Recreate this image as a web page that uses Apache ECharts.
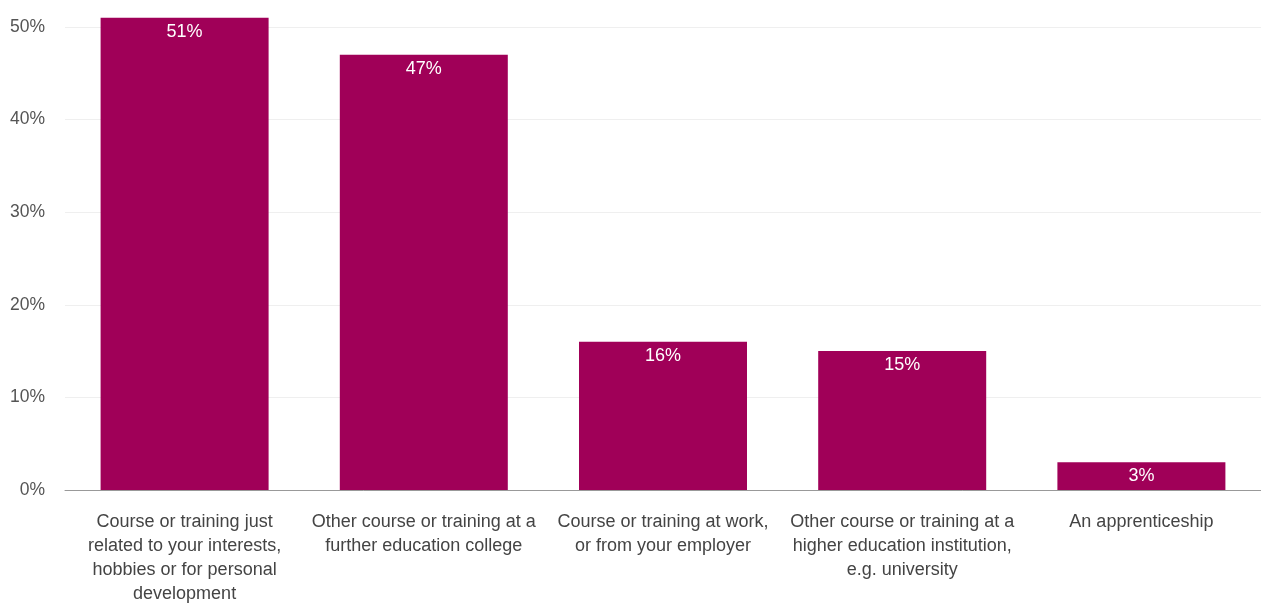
<!DOCTYPE html>
<html>
<head>
<meta charset="utf-8">
<script src="https://cdn.jsdelivr.net/npm/echarts@6/dist/echarts.min.js"></script>
<style>
  html, body { margin: 0; padding: 0; background: #fff; }
  #chart { width: 1261px; height: 606px; }
</style>
</head>
<body>
<div id="chart"></div>
<script>
// Type of learning taken up, share of respondents (%)
const categories = [
  'Course or training just\nrelated to your interests,\nhobbies or for personal\ndevelopment',
  'Other course or training at a\nfurther education college',
  'Course or training at work,\nor from your employer',
  'Other course or training at a\nhigher education institution,\ne.g. university',
  'An apprenticeship'
];
const shares = [51, 47, 16, 15, 3];
const yTicks = { min: 0, max: 50, step: 10 };

const chart = echarts.init(document.getElementById('chart'));
chart.setOption({
  animation: false,
  textStyle: { fontFamily: 'Liberation Sans, Arial, sans-serif' },
  // plot area runs past the right edge, so the last gridlines are cut off
  grid: { left: 65, top: 27, width: 1207, bottom: 111, containLabel: false },
  xAxis: {
    type: 'category',
    data: categories,
    axisTick: { show: false },
    axisLine: { lineStyle: { color: '#999', width: 1 } },
    axisLabel: {
      interval: 0,
      margin: 20,
      color: '#444',
      fontSize: 18,
      lineHeight: 24,
      align: 'center'
    }
  },
  yAxis: {
    type: 'value',
    min: yTicks.min,
    max: yTicks.max,
    interval: yTicks.step,
    axisLine: { show: false },
    axisTick: { show: false },
    splitLine: { lineStyle: { color: '#efefef', width: 1 } },
    axisLabel: { formatter: '{value}%', color: '#555', fontSize: 17.5, margin: 20 }
  },
  series: [{
    type: 'bar',
    data: shares,
    clip: false,
    barWidth: 168,
    itemStyle: { color: '#A00058' },
    label: {
      show: true,
      position: 'insideTop',
      distance: 5,
      color: '#fff',
      fontSize: 18,
      formatter: p => p.value + '%'
    }
  }]
});
</script>
</body>
</html>
